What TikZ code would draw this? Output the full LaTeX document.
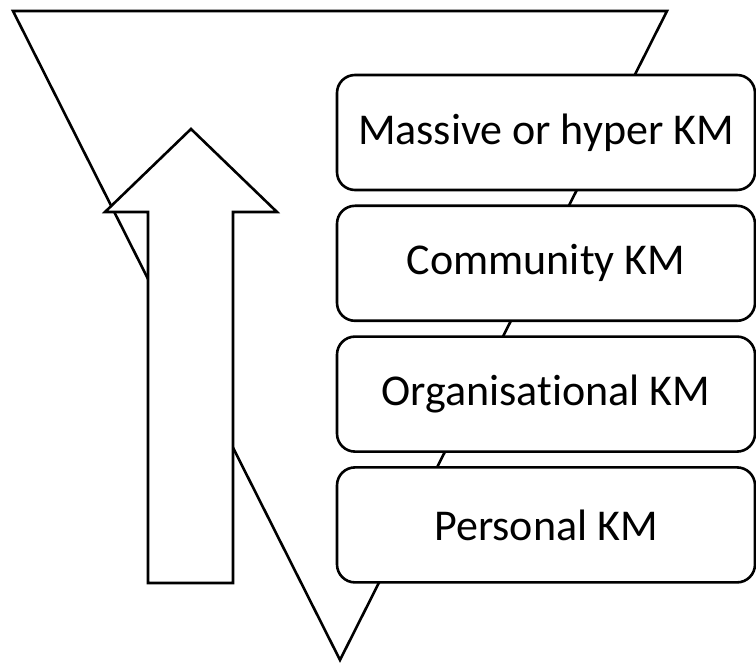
\documentclass[tikz,border=0pt]{standalone}
\usepackage{fontspec}
\setmainfont{Carlito}[Ligatures=NoCommon]
\usetikzlibrary{positioning}
\begin{document}
\begin{tikzpicture}[
      x=0.5pt,y=-0.5pt,
      line width=1.3pt,
      level/.style={
        draw,fill=white,rounded corners=9pt,
        minimum width=209pt,minimum height=57.5pt,inner sep=0pt,
        font=\fontsize{22}{26}\selectfont
      },
    ]
    \useasboundingbox (0,0) rectangle (756,663);
    \coordinate (tl) at (13,11);
    \coordinate (tr) at (667,11);
    \coordinate (bt) at (340,660);
    \draw[line join=miter] (tl) -- (tr) -- (bt) -- cycle;
    \draw[fill=white,line join=miter] (191,129) -- (277,212) -- (233,212)
      -- (233,583) -- (148,583) -- (148,212) -- (105,212) -- cycle;
    \node[level] (hyper) at (546,132.5) {Massive or hyper KM};
    \node[level,below=6.6pt of hyper] (comm) {Community KM};
    \node[level,below=6.6pt of comm] (org) {Organisational KM};
    \node[level,below=6.6pt of org] (pers) {Personal KM};
  \end{tikzpicture}
\end{document}
